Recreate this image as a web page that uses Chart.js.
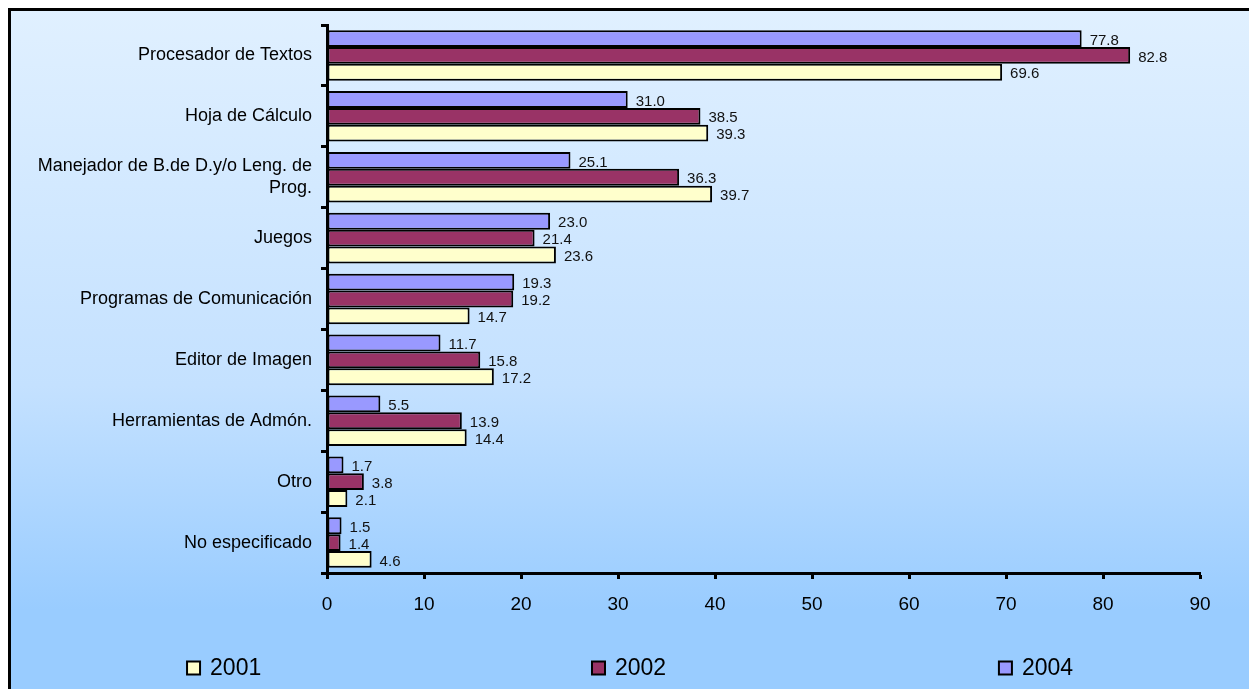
<!DOCTYPE html>
<html>
<head>
<meta charset="utf-8">
<script src="https://cdn.jsdelivr.net/npm/chart.js@4"></script>
<style>
  body { margin: 0; background: #fff; }
  #marco {
    position: absolute; left: 8px; top: 8px;
    width: 1241px; height: 681px;
    border-left: 3px solid #000; border-top: 3px solid #000;
    background: linear-gradient(to bottom, #E0F0FF 0%, #C4E1FF 55%, #99CCFF 88%, #99CCFF 100%);
    overflow: hidden;
  }
  canvas { display: block; }
</style>
</head>
<body>
<div id="marco"><canvas id="grafica" width="1238" height="678"></canvas></div>
<script>
// categorias (de arriba hacia abajo)
const categorias = [
    "Procesador de Textos",
    "Hoja de Cálculo",
    ["Manejador de B.de D.y/o Leng. de", "Prog."],
    "Juegos",
    "Programas de Comunicación",
    "Editor de Imagen",
    "Herramientas de Admón.",
    "Otro",
    "No especificado"
];

// valores por año
const datos2004 = [77.8, 31.0, 25.1, 23.0, 19.3, 11.7, 5.5, 1.7, 1.5];
const datos2002 = [82.8, 38.5, 36.3, 21.4, 19.2, 15.8, 13.9, 3.8, 1.4];
const datos2001 = [69.6, 39.3, 39.7, 23.6, 14.7, 17.2, 14.4, 2.1, 4.6];

const ticksX = [0, 10, 20, 30, 40, 50, 60, 70, 80, 90];

const fuente = "Arial, 'Liberation Sans', sans-serif";

// etiquetas de valor a la derecha de cada barra
const pluginValores = {
    id: "valores",
    afterDatasetsDraw(chart) {
        const ctx = chart.ctx;
        ctx.save();
        ctx.font = "15px " + fuente;
        ctx.fillStyle = "#111";
        ctx.textAlign = "left";
        ctx.textBaseline = "middle";
        chart.data.datasets.forEach((ds, i) => {
            const meta = chart.getDatasetMeta(i);
            meta.data.forEach((bar, j) => {
                ctx.fillText(ds.data[j].toFixed(1), bar.x + 8, bar.y + 2);
            });
        });
        ctx.restore();
    }
};

// leyenda abajo, en el orden 2001, 2002, 2004
const pluginLeyenda = {
    id: "leyenda",
    afterDraw(chart) {
        const ctx = chart.ctx;
        const posiciones = [0.1422, 0.4693, 0.798];
        const orden = [2, 1, 0];
        const y = 657;
        ctx.save();
        ctx.font = "23px " + fuente;
        ctx.textBaseline = "middle";
        orden.forEach((idx, k) => {
            const ds = chart.data.datasets[idx];
            const x = chart.width * posiciones[k];
            ctx.fillStyle = ds.backgroundColor;
            ctx.fillRect(x, y - 6.5, 13, 13);
            ctx.lineWidth = 2;
            ctx.strokeStyle = "#000";
            ctx.strokeRect(x, y - 6.5, 13, 13);
            ctx.fillStyle = "#000";
            ctx.fillText(ds.label, x + 23, y + 1);
        });
        ctx.restore();
    }
};

const config = {
    type: "bar",
    data: {
        labels: categorias,
        datasets: [
            { label: "2004", data: datos2004, backgroundColor: "#9999FF" },
            { label: "2002", data: datos2002, backgroundColor: "#993366" },
            { label: "2001", data: datos2001, backgroundColor: "#FFFFCC" }
        ].map(d => Object.assign(d, {
            borderColor: "#000",
            borderWidth: 2,
            borderSkipped: false,
            categoryPercentage: 0.83,
            barPercentage: 1.0
        }))
    },
    options: {
        indexAxis: "y",
        responsive: false,
        animation: false,
        layout: { padding: { top: 14, right: 49, left: 0, bottom: 0 } },
        plugins: {
            legend: { display: false },
            tooltip: { enabled: false }
        },
        scales: {
            x: {
                min: 0,
                max: 90,
                afterBuildTicks: (scale) => { scale.ticks = ticksX.map(v => ({ value: v })); },
                afterFit: (scale) => { scale.height = 116; },
                border: { display: true, color: "#000", width: 3 },
                grid: { drawOnChartArea: false, drawTicks: true, tickLength: 6, tickWidth: 3, tickColor: "#000" },
                ticks: { color: "#000", font: { family: fuente, size: 19 }, padding: 14, maxRotation: 0 }
            },
            y: {
                afterFit: (scale) => {
                    scale.width = 316;
                    scale.paddingTop = 0;
                    scale.paddingBottom = 0;
                },
                border: { display: true, color: "#000", width: 3 },
                grid: { drawOnChartArea: false, drawTicks: true, tickLength: 6, tickWidth: 3, tickColor: "#000", offset: true },
                ticks: { color: "#000", font: { family: fuente, size: 18 }, padding: 9 }
            }
        }
    },
    plugins: [pluginValores, pluginLeyenda]
};

new Chart(document.getElementById("grafica"), config);
</script>
</body>
</html>
